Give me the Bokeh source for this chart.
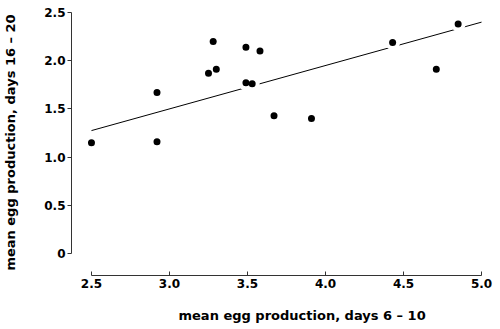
from bokeh.plotting import figure
from bokeh.models import FixedTicker, Range1d, NumeralTickFormatter, Title
from bokeh.embed import file_html
from bokeh.resources import INLINE

# data
x_vals = [2.50, 2.92, 2.92, 3.25, 3.28, 3.30, 3.49, 3.49, 3.53, 3.58, 3.67, 3.91, 4.43, 4.71, 4.85]
y_vals = [1.15, 1.67, 1.16, 1.87, 2.20, 1.91, 2.14, 1.77, 1.76, 2.10, 1.43, 1.40, 2.19, 1.91, 2.38]
fit_x = [2.50, 5.00]
fit_y = [1.275, 2.40]
x_ticks = [2.5, 3.0, 3.5, 4.0, 4.5, 5.0]
y_ticks = [0, 0.5, 1.0, 1.5, 2.0, 2.5]
x_title = "mean egg production, days 6 – 10"
y_title = "mean egg production, days 16 – 20"

FONT = "DejaVu Sans"

p = figure(frame_width=418, frame_height=266, output_backend="svg", toolbar_location=None,
           x_range=Range1d(2.372, 5.051), y_range=Range1d(-0.228, 2.531),
           min_border_left=64, min_border_right=4, min_border_top=9, min_border_bottom=3)
p.outline_line_color = None
p.grid.visible = False
p.background_fill_color = "white"
p.border_fill_color = "white"

p.line(fit_x, fit_y, line_color="black", line_width=1)
p.scatter(x_vals, y_vals, size=15, fill_color="white", line_color=None)
p.scatter(x_vals, y_vals, size=7, fill_color="black", line_color=None)

xa = p.xaxis[0]
ya = p.yaxis[0]
xa.ticker = FixedTicker(ticks=x_ticks)
ya.ticker = FixedTicker(ticks=y_ticks)
xa.formatter = NumeralTickFormatter(format="0.0")
ya.formatter = NumeralTickFormatter(format="0.0")
ya.major_label_overrides = {0: "0"}
xa.bounds = (2.5, 5.0)
ya.bounds = (0, 2.5)
for ax in (xa, ya):
    ax.minor_tick_line_color = None
    ax.axis_line_color = "#333333"
    ax.major_tick_line_color = "#333333"
    ax.major_label_text_font = FONT
    ax.major_label_text_font_style = "bold"
    ax.major_label_text_font_size = "12px"
    ax.major_label_text_color = "black"
    ax.axis_label_text_font = FONT
    ax.axis_label_text_font_style = "bold"
    ax.axis_label_text_font_size = "13px"
    ax.axis_label_text_color = "black"
xa.major_tick_in = 4
xa.major_tick_out = 0
ya.major_tick_in = 0
ya.major_tick_out = 4
xa.major_label_standoff = 3
ya.major_label_standoff = 2
ya.axis_label = y_title
ya.axis_label_standoff = 23

xt = Title(text=x_title, align="left", offset=107, standoff=31,
           text_font=FONT, text_font_style="bold", text_font_size="13px",
           text_color="black")
p.add_layout(xt, "below")

open("out.html", "w").write(file_html(p, INLINE))
